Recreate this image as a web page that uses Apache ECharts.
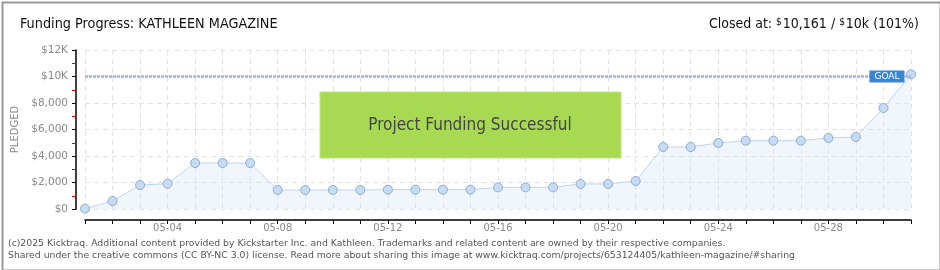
<!DOCTYPE html>
<html><head><meta charset="utf-8">
<script src="https://cdn.jsdelivr.net/npm/echarts@6/dist/echarts.min.js"></script>
<style>html,body{margin:0;padding:0;background:#fff}#c{width:940px;height:270px}</style>
</head><body><div id="c"></div>
<script>
const categories = ['05-01','05-02','05-03','05-04','05-05','05-06','05-07','05-08','05-09','05-10','05-11','05-12','05-13','05-14','05-15','05-16','05-17','05-18','05-19','05-20','05-21','05-22','05-23','05-24','05-25','05-26','05-27','05-28','05-29','05-30','05-31'];
const pledged = [25, 600, 1810, 1910, 3470, 3470, 3470, 1435, 1435, 1435, 1435, 1460, 1460, 1460, 1460, 1630, 1630, 1630, 1890, 1890, 2115, 4680, 4680, 4980, 5155, 5155, 5155, 5360, 5435, 7620, 10161];
const goal = 10000;
const yTickLabels = ['$0','$2,000','$4,000','$6,000','$8,000','$10K','$12K'];
const titleText = 'Funding Progress: KATHLEEN MAGAZINE';
const footer1 = '(c)2025 Kicktraq. Additional content provided by Kickstarter Inc. and Kathleen. Trademarks and related content are owned by their respective companies.';
const footer2 = 'Shared under the creative commons (CC BY-NC 3.0) license. Read more about sharing this image at www.kicktraq.com/projects/653124405/kathleen-magazine/#sharing';

const chart = echarts.init(document.getElementById('c'));
const narrow = "'Liberation Sans Narrow', 'DejaVu Sans Condensed', sans-serif";
chart.setOption({
  animation: false,
  title: [
    {text: titleText, left: 20, top: 17, padding: 0, textStyle: {fontFamily: narrow, fontSize: 14.3, fontWeight: 'normal', color: '#111'}},
    {text: 'Closed at: {s|$}10,161 / {s|$}10k (101%)', right: 21, top: 17, padding: 0,
     textStyle: {fontFamily: narrow, fontSize: 14, fontWeight: 'normal', color: '#111',
       rich: {s: {fontFamily: narrow, fontSize: 10, color: '#111', verticalAlign: 'top', padding: [0,1,5,0]}}}}
  ],
  grid: {left: 85, right: 29, top: 50, bottom: 61},
  xAxis: {
    type: 'category', data: categories, boundaryGap: false, offset: 11,
    axisLine: {onZero: false, lineStyle: {color: '#000', width: 1.5}},
    axisTick: {interval: 0, length: 4, lineStyle: {color: '#000'}},
    axisLabel: {interval: (i) => i % 4 === 3, color: '#8a8a8a', fontFamily: 'DejaVu Sans', fontSize: 10, margin: 3},
    splitLine: {show: true, interval: 0, lineStyle: {color: '#e2e2e2', type: [5,4]}}
  },
  yAxis: {
    type: 'value', min: 0, max: 12000, interval: 2000, offset: 9,
    name: 'PLEDGED', nameLocation: 'middle', nameGap: 47, nameRotate: 90,
    nameTextStyle: {color: '#888', fontFamily: 'DejaVu Sans', fontSize: 10},
    axisLine: {show: true, lineStyle: {color: '#000', width: 1.5}},
    axisTick: {show: true, length: 4, lineStyle: {color: '#000'}},
    minorTick: {show: true, splitNumber: 2, length: 4, lineStyle: {color: '#e00'}},
    axisLabel: {color: '#8a8a8a', fontFamily: 'DejaVu Sans', fontSize: 10.5, margin: 8,
      formatter: (v) => yTickLabels[Math.round(v / 2000)]},
    splitLine: {show: true, lineStyle: {color: '#e2e2e2', type: [5,4]}}
  },
  series: [{
    type: 'line', data: pledged, symbol: 'circle', symbolSize: 9,
    lineStyle: {color: '#b9d5f3', width: 1},
    itemStyle: {color: '#c4dcf6', borderColor: '#93aacb', borderWidth: 1},
    areaStyle: {color: 'rgba(218,232,250,0.55)'},
    markLine: {silent: true, symbol: 'none', label: {show: false},
      lineStyle: {color: '#9ab8dc', type: [3,1], width: 2.5},
      data: [{yAxis: goal}]},
    markPoint: {silent: true, symbol: 'rect', symbolSize: 1, itemStyle: {color: 'rgba(0,0,0,0)'},
      data: [{coord: [categories.length - 1, goal], value: 'GOAL'}],
      label: {show: true, position: 'left', distance: 6, formatter: 'GOAL', color: '#fff',
        backgroundColor: '#3a86d6', padding: [2,5,1,5], fontFamily: 'DejaVu Sans', fontSize: 9}}
  }],
  graphic: [
    {type: 'rect', left: 0, top: 0, shape: {x: 1, y: 1, width: 938, height: 268}, style: {fill: 'none', stroke: '#999', lineWidth: 2}, z: 100},
    {type: 'rect', shape: {x: 320, y: 92, width: 301, height: 66}, style: {fill: '#a7da52', stroke: '#bfe67c', lineWidth: 1}, z: 50},
    {type: 'text', x: 470, y: 126, style: {text: 'Project Funding Successful', fill: '#444', font: "17px " + narrow, textAlign: 'center', textVerticalAlign: 'middle', textShadowColor: '#e8f5d0', textShadowOffsetX: 1, textShadowOffsetY: 1}, z: 51},
    {type: 'text', x: 8, y: 244, style: {text: footer1, fill: '#555', font: "9.3px 'DejaVu Sans'", textVerticalAlign: 'middle'}},
    {type: 'text', x: 8, y: 256, style: {text: footer2, fill: '#555', font: "9.3px 'DejaVu Sans'", textVerticalAlign: 'middle'}}
  ]
});
</script></body></html>
